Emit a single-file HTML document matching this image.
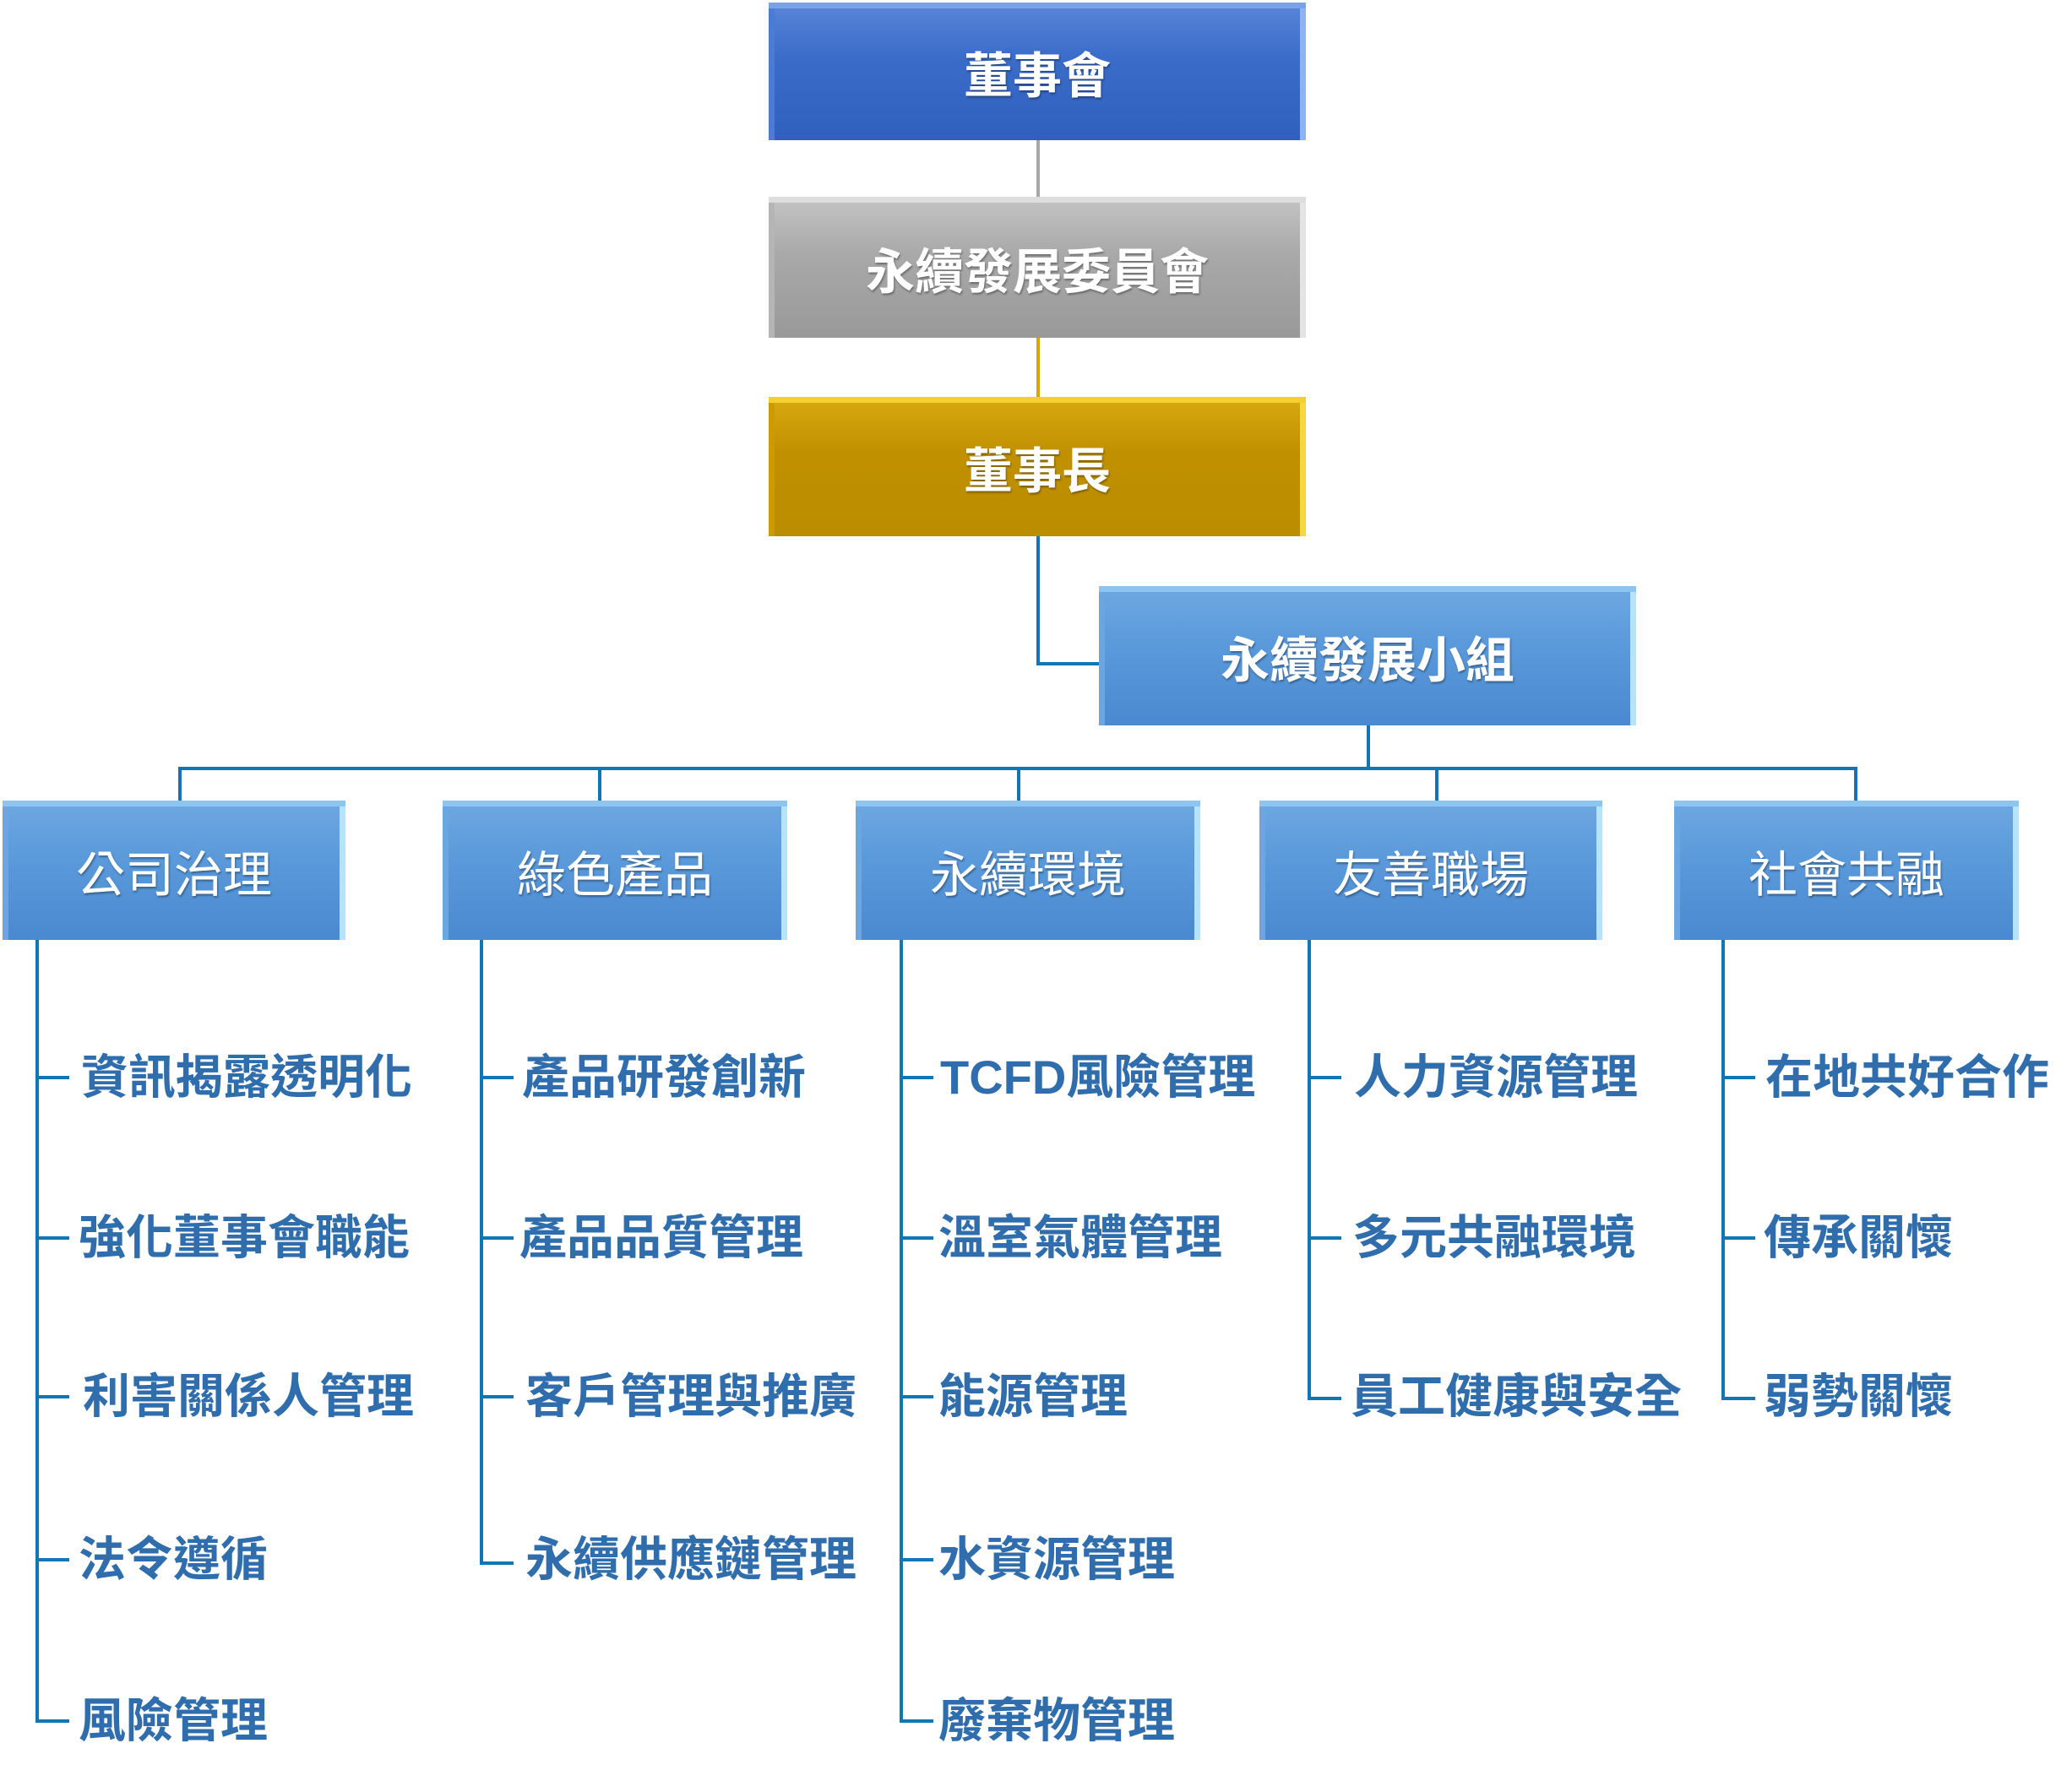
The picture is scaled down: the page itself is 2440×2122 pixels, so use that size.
<!DOCTYPE html>
<html><head><meta charset="utf-8">
<style>
html,body{margin:0;padding:0;background:#fff;}
#c{position:relative;width:2440px;height:2122px;overflow:hidden;font-family:"Liberation Sans","Noto Sans CJK TC",sans-serif;}
.b{position:absolute;display:flex;align-items:center;justify-content:center;color:#fff;box-sizing:border-box;
 text-shadow:1px 2px 2px rgba(0,0,0,.35);}
.blue1{background:linear-gradient(#5a86d8,#3a6cc9 40%,#2f60bd);box-shadow:inset 0 7px 0 #7aa2e8,inset -7px 0 0 #8fb3ee,inset 7px 0 0 #4c7bd3;}
.gray{background:linear-gradient(#c4c4c4,#a9a9a9 40%,#999);box-shadow:inset 0 7px 0 #ddd,inset -7px 0 0 #e4e4e4,inset 7px 0 0 #b5b5b5;}
.gold{background:linear-gradient(#d9aa10,#c09000 40%,#bb8d00);box-shadow:inset 0 7px 0 #f3cf30,inset -7px 0 0 #f5d840,inset 7px 0 0 #cb9a05;}
.lb{background:linear-gradient(#6fa8e2,#5b9adb 40%,#4a89cf);box-shadow:inset 0 7px 0 #8cc4f2,inset -7px 0 0 #b6e2fa,inset 7px 0 0 #6aa6e2;}
.h{position:absolute;background:#1177b4;}
.t{position:absolute;color:#2f6dad;font-weight:bold;font-size:56px;line-height:70px;white-space:nowrap;}
.n{font-size:58px;font-weight:bold;}
.r{font-size:58px;font-weight:normal;}
</style></head><body><div id="c">
<!-- top connectors -->
<div class="h" style="left:1227px;top:166px;width:4px;height:68px;background:#a8a8a8"></div>
<div class="h" style="left:1227px;top:400px;width:4px;height:70px;background:#d4aa00"></div>
<div class="h" style="left:1227px;top:635px;width:4px;height:153px"></div>
<div class="h" style="left:1227px;top:784px;width:76px;height:4px"></div>
<div class="h" style="left:1618px;top:859px;width:4px;height:52px"></div>
<div class="h" style="left:211px;top:908px;width:1988px;height:4px"></div>
<div class="h" style="left:211px;top:908px;width:4px;height:42px"></div>
<div class="h" style="left:708px;top:908px;width:4px;height:42px"></div>
<div class="h" style="left:1204px;top:908px;width:4px;height:42px"></div>
<div class="h" style="left:1699px;top:908px;width:4px;height:42px"></div>
<div class="h" style="left:2195px;top:908px;width:4px;height:42px"></div>

<div class="b blue1 n" style="left:910px;top:3px;width:636px;height:163px;">董事會</div>
<div class="b gray n" style="left:910px;top:233px;width:636px;height:167px;">永續發展委員會</div>
<div class="b gold n" style="left:910px;top:470px;width:636px;height:165px;">董事長</div>
<div class="b lb n" style="left:1301px;top:694px;width:636px;height:165px;">永續發展小組</div>

<div class="b lb r" style="left:3px;top:948px;width:406px;height:165px;">公司治理</div>
<div class="b lb r" style="left:524px;top:948px;width:408px;height:165px;">綠色產品</div>
<div class="b lb r" style="left:1013px;top:948px;width:408px;height:165px;">永續環境</div>
<div class="b lb r" style="left:1491px;top:948px;width:406px;height:165px;">友善職場</div>
<div class="b lb r" style="left:1982px;top:948px;width:408px;height:165px;">社會共融</div>

<!-- trunks -->
<div class="h" style="left:42px;top:1113px;width:4px;height:927px"></div>
<div class="h" style="left:568px;top:1113px;width:4px;height:738px"></div>
<div class="h" style="left:1065px;top:1113px;width:4px;height:927px"></div>
<div class="h" style="left:1548px;top:1113px;width:4px;height:543px"></div>
<div class="h" style="left:2038px;top:1113px;width:4px;height:543px"></div>

<!-- col1 -->
<div class="h" style="left:42px;top:1274px;width:40px;height:4px"></div>
<div class="h" style="left:42px;top:1464px;width:40px;height:4px"></div>
<div class="h" style="left:42px;top:1652px;width:40px;height:4px"></div>
<div class="h" style="left:42px;top:1845px;width:40px;height:4px"></div>
<div class="h" style="left:42px;top:2036px;width:40px;height:4px"></div>
<div class="t" style="left:96px;top:1241px">資訊揭露透明化</div>
<div class="t" style="left:93px;top:1431px">強化董事會職能</div>
<div class="t" style="left:98px;top:1619px">利害關係人管理</div>
<div class="t" style="left:93px;top:1812px">法令遵循</div>
<div class="t" style="left:93px;top:2003px">風險管理</div>
<!-- col2 -->
<div class="h" style="left:568px;top:1274px;width:40px;height:4px"></div>
<div class="h" style="left:568px;top:1464px;width:40px;height:4px"></div>
<div class="h" style="left:568px;top:1652px;width:40px;height:4px"></div>
<div class="h" style="left:568px;top:1849px;width:40px;height:4px"></div>
<div class="t" style="left:618px;top:1241px">產品研發創新</div>
<div class="t" style="left:615px;top:1431px">產品品質管理</div>
<div class="t" style="left:622px;top:1619px">客戶管理與推廣</div>
<div class="t" style="left:622px;top:1812px">永續供應鏈管理</div>
<!-- col3 -->
<div class="h" style="left:1065px;top:1274px;width:40px;height:4px"></div>
<div class="h" style="left:1065px;top:1464px;width:40px;height:4px"></div>
<div class="h" style="left:1065px;top:1652px;width:40px;height:4px"></div>
<div class="h" style="left:1065px;top:1845px;width:40px;height:4px"></div>
<div class="h" style="left:1065px;top:2036px;width:40px;height:4px"></div>
<div class="t" style="left:1113px;top:1241px">TCFD風險管理</div>
<div class="t" style="left:1111px;top:1431px">溫室氣體管理</div>
<div class="t" style="left:1111px;top:1619px">能源管理</div>
<div class="t" style="left:1111px;top:1812px">水資源管理</div>
<div class="t" style="left:1111px;top:2003px">廢棄物管理</div>
<!-- col4 -->
<div class="h" style="left:1548px;top:1274px;width:40px;height:4px"></div>
<div class="h" style="left:1548px;top:1464px;width:40px;height:4px"></div>
<div class="h" style="left:1548px;top:1654px;width:40px;height:4px"></div>
<div class="t" style="left:1603px;top:1241px">人力資源管理</div>
<div class="t" style="left:1601px;top:1431px">多元共融環境</div>
<div class="t" style="left:1599px;top:1619px">員工健康與安全</div>
<!-- col5 -->
<div class="h" style="left:2038px;top:1274px;width:40px;height:4px"></div>
<div class="h" style="left:2038px;top:1464px;width:40px;height:4px"></div>
<div class="h" style="left:2038px;top:1654px;width:40px;height:4px"></div>
<div class="t" style="left:2090px;top:1241px">在地共好合作</div>
<div class="t" style="left:2088px;top:1431px">傳承關懷</div>
<div class="t" style="left:2088px;top:1619px">弱勢關懷</div>
</div></body></html>
